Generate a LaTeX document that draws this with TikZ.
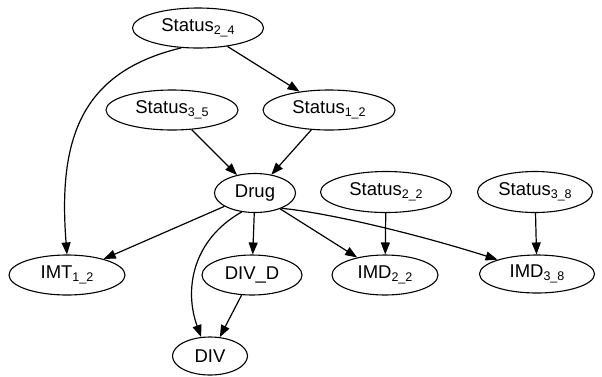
\documentclass[tikz,border=0pt]{standalone}
\usepackage{fontspec}
\setmainfont{Liberation Sans}
\usetikzlibrary{shapes.geometric,arrows.meta}
\newcommand\subx[1]{\raisebox{-3.5pt}{\fontsize{12.5}{13}\selectfont #1}}
\tikzset{
  nd/.style={draw, ellipse, line width=1.1pt, inner sep=0pt, font=\fontsize{18.5}{20}\selectfont, minimum height=40pt},
  ed/.style={draw, line width=1.2pt, -{Triangle[length=12pt,width=9pt]}}
}
\begin{document}
\begin{tikzpicture}[x=1pt,y=-1pt]
\useasboundingbox (0,0) rectangle (602,376);
\node[nd, minimum width=131pt] (s24) at (198,28) {Status\subx{2\_4}};
\node[nd, minimum width=132pt] (s35) at (172,110) {Status\subx{3\_5}};
\node[nd, minimum width=132pt] (s12) at (329,110) {Status\subx{1\_2}};
\node[nd, minimum width=81pt, minimum height=39pt] (drug) at (255,193) {Drug};
\node[nd, minimum width=131pt, minimum height=41pt] (s22) at (386,192) {Status\subx{2\_2}};
\node[nd, minimum width=115pt, minimum height=41pt] (s38) at (535,192) {Status\subx{3\_8}};
\node[nd, minimum width=116pt] (imt) at (67,275) {IMT\subx{1\_2}};
\node[nd, minimum width=100pt] (divd) at (252,275) {DIV\_D};
\node[nd, minimum width=106pt] (imd22) at (385,275) {IMD\subx{2\_2}};
\node[nd, minimum width=115pt, minimum height=38pt] (imd38) at (537,274) {IMD\subx{3\_8}};
\node[nd, minimum width=75pt, minimum height=38pt] (div) at (210,356) {DIV};

\draw[ed] (s24) -- (s12);
\draw[ed] (s24.230) .. controls (80,72) and (58,140) .. (imt.north);
\draw[ed] (s35) -- (drug);
\draw[ed] (s12) -- (drug);
\draw[ed] (drug) -- (imt);
\draw[ed] (drug) -- (divd);
\draw[ed] (drug.235) .. controls (192,240) and (184,290) .. (div.115);
\draw[ed] (divd) -- (div);
\draw[ed] (drug) -- (imd22);
\draw[ed] (drug.-30) .. controls (330,213) and (420,235) .. (imd38.160);
\draw[ed] (s22) -- (imd22);
\draw[ed] (s38) -- (imd38);
\end{tikzpicture}
\end{document}
